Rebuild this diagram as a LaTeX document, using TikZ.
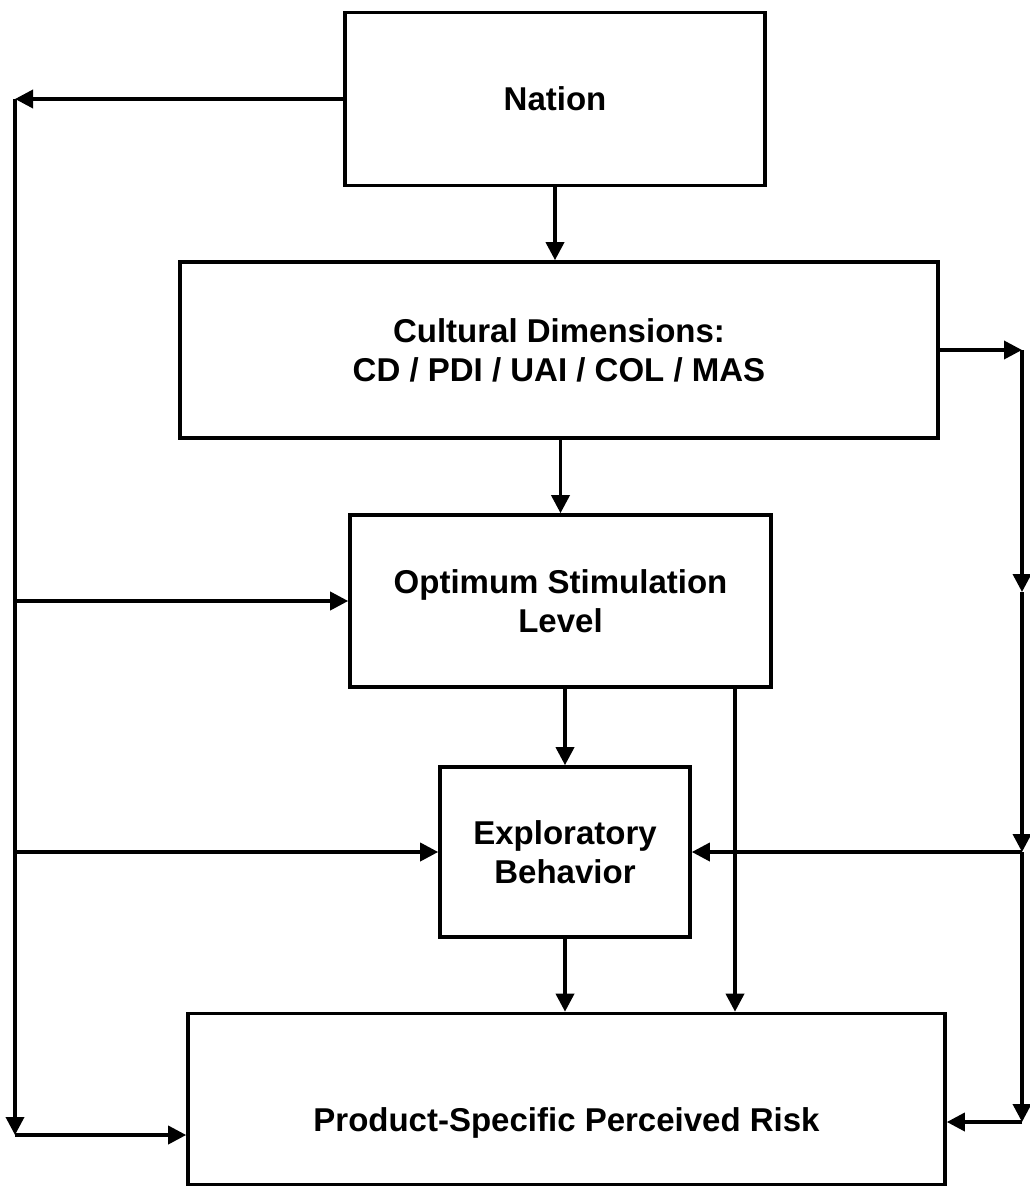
\documentclass[tikz,border=0pt]{standalone}
\usepackage{fontspec}
\setmainfont{Liberation Sans}
\usetikzlibrary{arrows.meta}
\tikzset{
  box/.style={draw, line width=1.8pt, inner sep=0pt, align=center,
    font=\bfseries\fontsize{16.5}{19.5}\selectfont},
  arr/.style={line width=1.8pt, -{Triangle[length=9pt,width=9pt]}}
}
\begin{document}
\begin{tikzpicture}[x=0.5pt,y=-0.5pt]
\useasboundingbox (0,0) rectangle (1029,1187);
\node[box, minimum width=210pt, minimum height=86.5pt] (nation) at (555,99) {Nation};
\node[box, minimum width=379pt, minimum height=88pt] (cult) at (559,350) {Cultural Dimensions:\\CD / PDI / UAI / COL / MAS};
\node[box, minimum width=210.5pt, minimum height=86pt] (osl) at (560.5,601) {Optimum Stimulation\\Level};
\node[box, minimum width=125pt, minimum height=85pt] (expl) at (565,852) {Exploratory\\Behavior};
\node[box, minimum width=378.5pt, minimum height=85.5pt, text height=36pt] (prod) at (566.5,1099) {Product-Specific Perceived Risk};

% coordinates for the side rails
\coordinate (Lt) at (15,99);
\coordinate (Lb) at (15,1135);
\coordinate (Rx) at (1022,0);
\coordinate (Rm) at (1022,592);
\coordinate (Rb) at (1022,1122);
\coordinate (c735) at (735,0);

% central chain
\draw[arr] (nation.south) -- (nation.south |- cult.north);
\draw[arr] (osl.north |- cult.south) -- (osl.north);
\draw[arr] (expl.north |- osl.south) -- (expl.north);
\draw[arr] (expl.south) -- (expl.south |- prod.north);
\draw[arr] (osl.south -| c735) -- (prod.north -| c735);

% left rail
\draw[arr] (nation.west) -- (Lt);
\draw[arr] (Lt) -- (Lb);
\draw[arr] (Lb) -- (Lb -| prod.west);
\draw[arr] (Lt |- osl.west) -- (osl.west);
\draw[arr] (Lt |- expl.west) -- (expl.west);

% right rail
\draw[arr] (cult.east) -- (cult.east -| Rx);
\draw[arr] (cult.east -| Rx) -- (Rm);
\draw[arr] (Rm) -- (Rx |- expl.east);
\draw[arr] (Rx |- expl.east) -- (Rb);
\draw[arr] (Rx |- expl.east) -- (expl.east);
\draw[arr] (Rb) -- (Rb -| prod.east);
\end{tikzpicture}
\end{document}
